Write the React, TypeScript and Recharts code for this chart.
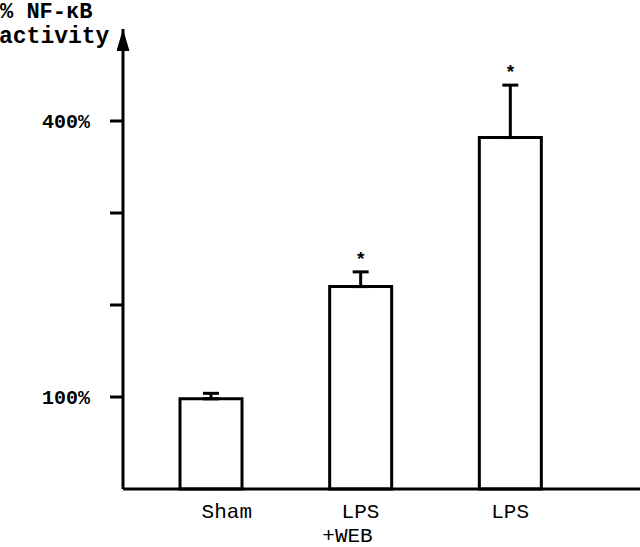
import React from 'react';
import { BarChart, Bar, XAxis, YAxis, ErrorBar, LabelList } from 'recharts';

const categories = ['Sham', 'LPS\n+WEB', 'LPS'];
const means = [98, 220, 382];
const errUp = [6, 16, 57];
const marks = ['', '*', '*'];
const yTicks = [100, 200, 300, 400];
const yLabelled = [100, 400];

const data = categories.map((name, i) => ({
  name,
  value: means[i],
  err: [0, errUp[i]],
  mark: marks[i],
}));

const FONT = '"Liberation Mono", "DejaVu Sans Mono", monospace';

// small nudges so the tick text sits where the original typesetter put it
const labelNudge: Record<string, number> = { Sham: 16 };

const XTick = ({ x, payload }: any) => {
  const lines = String(payload.value).split('\n');
  const dx = labelNudge[payload.value] ?? 0;
  return (
    <g>
      {lines.map((ln, i) => (
        <text
          key={i}
          x={x + dx + (i > 0 ? -13 : 0)}
          y={518 + i * 24}
          textAnchor="middle"
          fontFamily={FONT}
          fontSize={21}
          fill="#000"
        >
          {ln}
        </text>
      ))}
    </g>
  );
};

const Star = (props: any) => {
  const { x, y, width, height, index, value } = props;
  if (!value) return null;
  const top = y - errUp[index] * (height / means[index]);
  return (
    <text x={x + width / 2} y={top - 7} textAnchor="middle" fontFamily={FONT} fontSize={19} fontWeight="bold" fill="#000">
      {value}
    </text>
  );
};

const App: React.FC = () => {
  return (
    <div style={{ position: 'absolute', left: 0, top: 0, width: 640, height: 547, background: '#fff' }}>
      <svg width={0} height={0} style={{ position: 'absolute' }}>
        <defs>
          <marker id="yArrow" markerUnits="userSpaceOnUse" markerWidth={24} markerHeight={14} refX={22} refY={6.5} orient="auto-start-reverse">
            <path d="M0,0 L22,6.5 L0,13 z" fill="#000" />
          </marker>
        </defs>
      </svg>
      <BarChart width={640} height={547} data={data} margin={{ top: 29, right: 0, bottom: 0, left: 0 }}>
        <XAxis
          dataKey="name"
          height={58}
          padding={{ left: 13, right: 55 }}
          axisLine={{ stroke: '#000', strokeWidth: 3 }}
          tickLine={false}
          tickSize={0}
          tick={<XTick />}
          interval={0}
        />
        <YAxis
          width={123}
          domain={[0, 500]}
          ticks={yTicks}
          tickSize={13}
          tickMargin={20}
          axisLine={{ stroke: '#000', strokeWidth: 3, markerStart: 'url(#yArrow)' }}
          tickLine={{ stroke: '#000', strokeWidth: 3 }}
          tickFormatter={(v: number) => (yLabelled.includes(v) ? `${v}%` : '')}
          tick={{ fill: '#000', fontFamily: FONT, fontSize: 20, fontWeight: 'bold' }}
        />
        <Bar dataKey="value" barSize={62} fill="#fff" stroke="#000" strokeWidth={3} isAnimationActive={false}>
          <ErrorBar dataKey="err" width={8} stroke="#000" strokeWidth={3} isAnimationActive={false} />
          <LabelList dataKey="mark" content={<Star />} />
        </Bar>
      </BarChart>
      <svg width={200} height={50} style={{ position: 'absolute', left: 0, top: 0 }}>
        <text x={0} y={18} fontFamily={FONT} fontSize={22} fontWeight="bold" fill="#000">% NF-κB</text>
        <text x={-1} y={43} fontFamily={FONT} fontSize={23} fontWeight="bold" fill="#000">activity</text>
      </svg>
    </div>
  );
};

export default App;
